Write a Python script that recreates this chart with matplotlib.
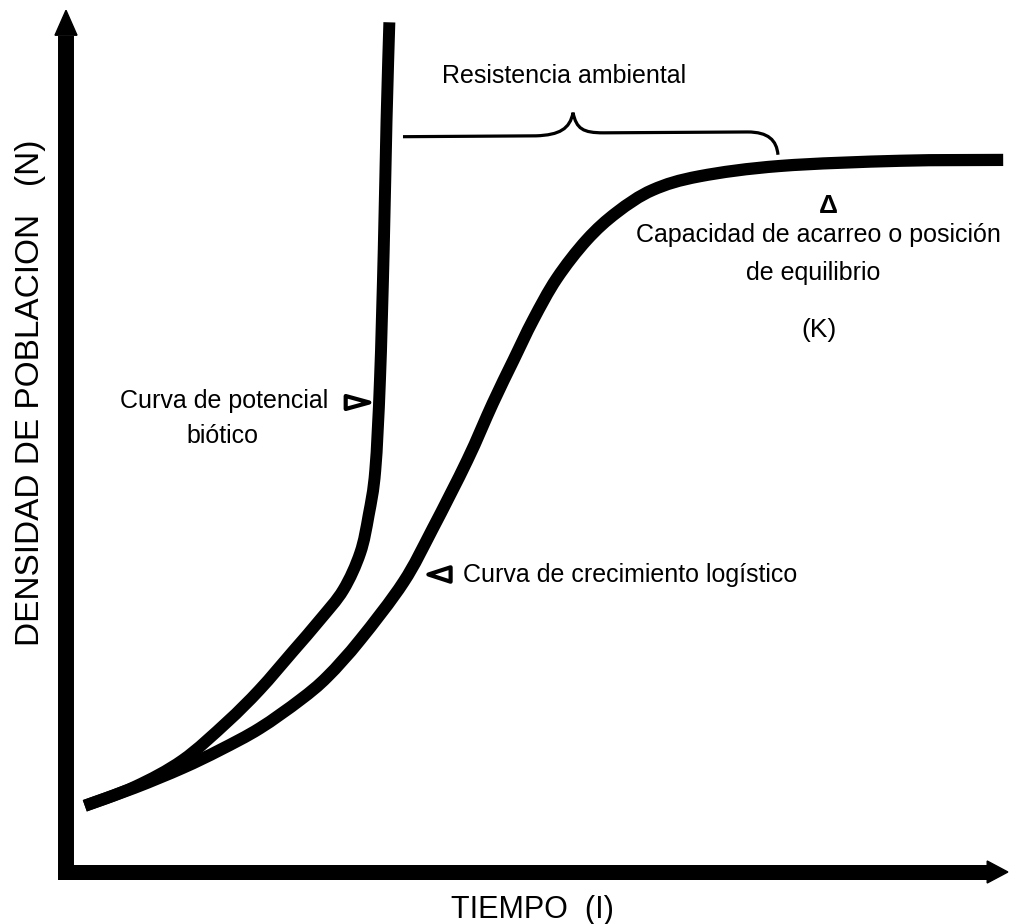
import matplotlib
matplotlib.use("Agg")
import numpy as np
import matplotlib.pyplot as plt
from matplotlib.path import Path
from matplotlib.patches import PathPatch, Polygon
from matplotlib import font_manager

# --- data (time in arbitrary units, population density in % of plot height) ---
exp_time = [0.20, 0.73, 1.24, 1.71, 2.06, 2.41, 2.70, 2.95, 3.13, 3.22, 3.29, 3.34,
            3.38, 3.41, 3.44]
exp_density = [7.7, 9.9, 13.0, 17.4, 21.2, 25.6, 29.3, 32.8, 37.1, 41.5, 46.7, 57.2,
               72.3, 87.4, 98.8]

log_time = [0.20, 0.73, 1.24, 1.64, 2.06, 2.49, 2.78, 3.13, 3.59, 3.90, 4.27, 4.54,
            4.76, 4.97, 5.22, 5.54, 5.86, 6.24, 6.74, 7.60, 8.87, 9.97]
log_density = [7.7, 9.8, 12.1, 14.2, 16.7, 20.0, 22.7, 27.0, 33.7, 39.9, 47.9, 54.5,
               59.5, 64.2, 69.0, 73.5, 76.7, 79.3, 80.9, 82.1, 82.7, 82.8]

x_label = "TIEMPO  (I)"
y_label = "DENSIDAD DE POBLACION   (N)"

# --- figure / axes ---
W, H = 10.18, 9.24
fig = plt.figure(figsize=(W, H), dpi=100)
ax = fig.add_axes([0, 0, 1, 1])
PX_T, PX_N = 94.0, 8.6          # pixels per data unit
ORIGIN_X, ORIGIN_Y = 66, 872    # pixel position of (0, 0)
ax.set_xlim(-ORIGIN_X / PX_T, (W * 100 - ORIGIN_X) / PX_T)
ax.set_ylim(-(H * 100 - ORIGIN_Y) / PX_N, ORIGIN_Y / PX_N)
ax.axis("off")


def fam(*names):
    out = []
    for n in names:
        try:
            font_manager.findfont(n, fallback_to_default=False)
            out.append(n)
        except Exception:
            pass
    return out + ["DejaVu Sans"]


SANS = fam("Liberation Sans")
NARROW = fam("Liberation Sans Narrow", "Liberation Sans")


def smooth_path(xs, ys):
    """Catmull-Rom curve through the given points, as cubic Bezier segments."""
    p = np.column_stack([xs, ys]).astype(float)
    ext = np.vstack([p[0], p, p[-1]])
    verts = [tuple(p[0])]
    codes = [Path.MOVETO]
    for i in range(1, len(ext) - 2):
        p0, p1, p2, p3 = ext[i - 1], ext[i], ext[i + 1], ext[i + 2]
        c1 = p1 + (p2 - p0) / 6.0
        c2 = p2 - (p3 - p1) / 6.0
        verts += [tuple(c1), tuple(c2), tuple(p2)]
        codes += [Path.CURVE4] * 3
    return Path(verts, codes)


# --- axes with arrows ---
t_max, n_max = 10.02, 100.2
ax.plot([0, 0], [-0.95, n_max - 3.0], color="black", lw=11.5, solid_capstyle="butt")
ax.plot([-0.08, t_max - 0.2], [0, 0], color="black", lw=10.8, solid_capstyle="butt")
hw_t, hw_n = 11 / PX_T, 11 / PX_N
ax.add_patch(Polygon([[0, n_max], [-hw_t, n_max - 2.9], [hw_t, n_max - 2.9]],
                     closed=True, color="black"))
ax.add_patch(Polygon([[t_max, 0], [t_max - 0.22, hw_n], [t_max - 0.22, -hw_n]],
                     closed=True, color="black"))

# --- growth curves ---
ax.add_patch(PathPatch(smooth_path(exp_time, exp_density), fill=False,
                       edgecolor="black", lw=8.6, capstyle="butt", joinstyle="round"))
ax.add_patch(PathPatch(smooth_path(log_time, log_density), fill=False,
                       edgecolor="black", lw=8.8, capstyle="butt", joinstyle="round"))

# --- brace: environmental resistance ---
verts = [(3.585, 85.5), (5.00, 85.6),
         (5.25, 85.7), (5.36, 86.4), (5.394, 88.3),
         (5.43, 86.4), (5.50, 85.95), (5.72, 85.95),
         (7.25, 86.05),
         (7.47, 86.05), (7.56, 85.1), (7.574, 83.4)]
codes = [Path.MOVETO, Path.LINETO,
         Path.CURVE4, Path.CURVE4, Path.CURVE4,
         Path.CURVE4, Path.CURVE4, Path.CURVE4,
         Path.LINETO,
         Path.CURVE4, Path.CURVE4, Path.CURVE4]
ax.add_patch(PathPatch(Path(verts, codes), fill=False, lw=2.3, edgecolor="black",
                       capstyle="butt"))

# --- annotations ---
FS = 18
ax.text(5.30, 91.7, "Resistencia ambiental", fontsize=FS, family=SANS,
        ha="center", va="baseline")

ax.text(2.79, 53.95, "Curva de potencial", fontsize=FS, family=SANS,
        ha="right", va="baseline")
ax.text(1.66, 49.9, "biótico", fontsize=FS, family=SANS, ha="center", va="baseline")

tri_right = Path([(-1, -0.55), (1, 0), (-1, 0.55), (-1, -0.55)],
                 [Path.MOVETO, Path.LINETO, Path.LINETO, Path.CLOSEPOLY])
tri_left = Path([(1, -0.65), (-1, 0), (1, 0.65), (1, -0.65)],
                [Path.MOVETO, Path.LINETO, Path.LINETO, Path.CLOSEPOLY])
ax.plot([3.10], [54.7], marker=tri_right, markersize=17, markerfacecolor="white",
        markeredgecolor="black", markeredgewidth=3.0, linestyle="none")
ax.plot([3.97], [34.6], marker=tri_left, markersize=16, markerfacecolor="white",
        markeredgecolor="black", markeredgewidth=3.0, linestyle="none")
ax.text(4.22, 33.7, "Curva de crecimiento logístico", fontsize=FS, family=SANS,
        ha="left", va="baseline")

ax.text(8.11, 76.6, "Δ", fontsize=19, family=SANS, weight="bold",
        ha="center", va="baseline")
ax.text(8.00, 73.26, "Capacidad de acarreo o posición", fontsize=FS, family=SANS,
        ha="center", va="baseline")
ax.text(7.95, 68.84, "de equilibrio", fontsize=FS, family=SANS,
        ha="center", va="baseline")
ax.text(8.01, 62.2, "(K)", fontsize=19, family=SANS, ha="center", va="baseline")

ax.text(-0.38, 55.7, y_label, fontsize=24, family=SANS, rotation=90,
        ha="center", va="center")
ax.text(4.96, -5.35, x_label, fontsize=22, family=NARROW, ha="center", va="baseline")

fig.savefig("out.png", dpi=100, facecolor="white")
